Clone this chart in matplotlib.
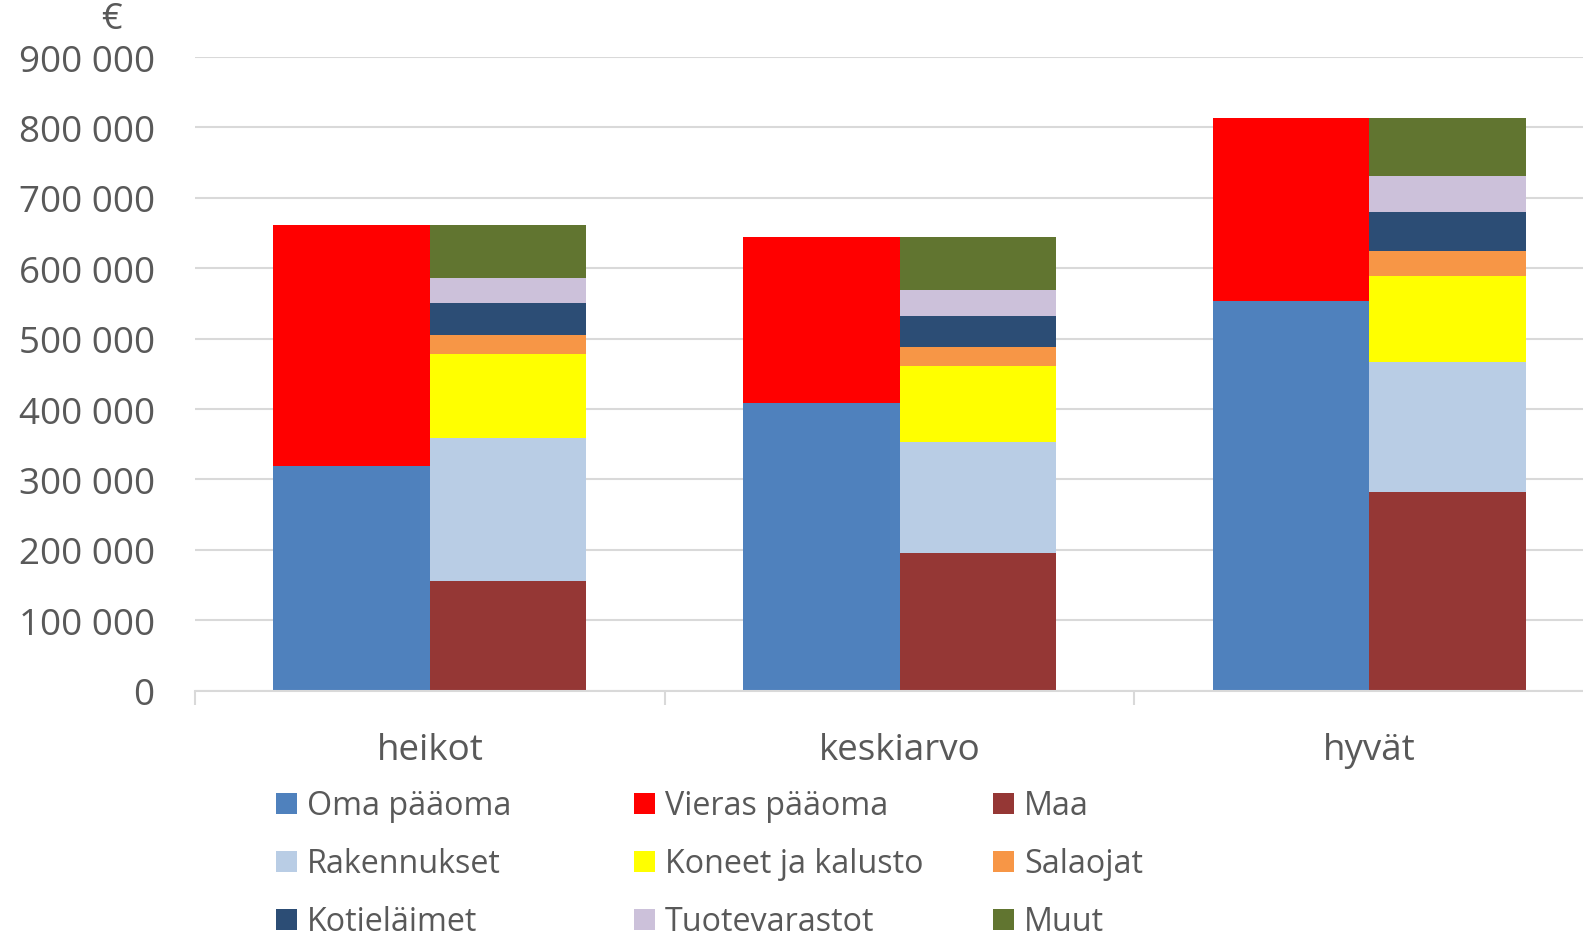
import numpy as np
import matplotlib.pyplot as plt
from matplotlib.patches import Rectangle

categories = ['heikot', 'keskiarvo', 'hyvät']

# financing side (left bar)
oma_paaoma = [319000, 408000, 553000]
vieras_paaoma = [342500, 236500, 261000]

# assets side (right bar)
maa = [156000, 196000, 281500]
rakennukset = [202500, 157000, 185500]
koneet = [120000, 108000, 122000]
salaojat = [26000, 27000, 35500]
kotielaimet = [46000, 44000, 56000]
tuotevarastot = [35000, 37000, 51000]
muut = [76500, 75500, 82500]

yticks = np.arange(0, 900001, 100000)

left_series = [('Oma pääoma', oma_paaoma, '#4F81BD'),
               ('Vieras pääoma', vieras_paaoma, '#FF0000')]
right_series = [('Maa', maa, '#953735'),
                ('Rakennukset', rakennukset, '#B9CDE5'),
                ('Koneet ja kalusto', koneet, '#FFFF00'),
                ('Salaojat', salaojat, '#F79646'),
                ('Kotieläimet', kotielaimet, '#2C4D75'),
                ('Tuotevarastot', tuotevarastot, '#CCC1DA'),
                ('Muut', muut, '#617530')]

plt.rcParams['font.family'] = ['Open Sans', 'DejaVu Sans']
text_col = '#595959'
W, H = 1583, 937

fig = plt.figure(figsize=(W / 100, H / 100), dpi=100)
ax = fig.add_axes([195 / W, 1 - 691.7 / H, 1409 / W, 633.7 / H])

x = np.arange(len(categories))
w = 1 / 3
colors = {}

bottom = np.zeros(len(categories))
for name, vals, col in left_series:
    ax.bar(x - w / 2, vals, w, bottom=bottom, color=col, linewidth=0, zorder=2)
    colors[name] = col
    bottom += np.array(vals)

bottom = np.zeros(len(categories))
for name, vals, col in right_series:
    ax.bar(x + w / 2, vals, w, bottom=bottom, color=col, linewidth=0, zorder=2)
    colors[name] = col
    bottom += np.array(vals)

ax.set_xlim(-0.5, len(categories) - 0.5)
ax.set_ylim(0, 900000)
ax.set_yticks(yticks)
ax.set_yticklabels([f'{v:,}'.replace(',', ' ') for v in yticks])
ax.yaxis.grid(True, color='#d9d9d9', linewidth=1.5, zorder=0)
ax.set_axisbelow(True)

ax.set_xticks(x)
ax.set_xticklabels(categories)
ax.set_xticks(np.arange(len(categories) + 1) - 0.5, minor=True)
ax.tick_params(axis='x', which='major', length=0, pad=29.5, labelsize=26.5, labelcolor=text_col)
ax.tick_params(axis='x', which='minor', length=10, width=1.5, color='#d9d9d9')
ax.tick_params(axis='y', length=0, pad=29, labelsize=26.5, labelcolor=text_col)

for s in ['top', 'right', 'left']:
    ax.spines[s].set_visible(False)
ax.spines['bottom'].set_color('#d9d9d9')
ax.spines['bottom'].set_linewidth(1.5)

fig.text(111 / W, 1 - 20 / H, '€', fontsize=26, color=text_col, ha='center', va='center')

# legend laid out like the original: rows read across
legend_rows = [['Oma pääoma', 'Vieras pääoma', 'Maa'],
               ['Rakennukset', 'Koneet ja kalusto', 'Salaojat'],
               ['Kotieläimet', 'Tuotevarastot', 'Muut']]
col_x = [276, 634, 993]
row_y = [804.5, 862.5, 920.5]
box = 21
for r, row in enumerate(legend_rows):
    for c, name in enumerate(row):
        x0, yc = col_x[c], row_y[r]
        fig.add_artist(Rectangle((x0 / W, 1 - (yc + box / 2) / H), box / W, box / H,
                                 transform=fig.transFigure, color=colors[name], lw=0))
        fig.text((x0 + 31) / W, 1 - (yc + 10.5) / H, name, fontsize=23.2,
                 color=text_col, ha='left', va='baseline')

fig.savefig('out.png', dpi=100)
plt.close(fig)
